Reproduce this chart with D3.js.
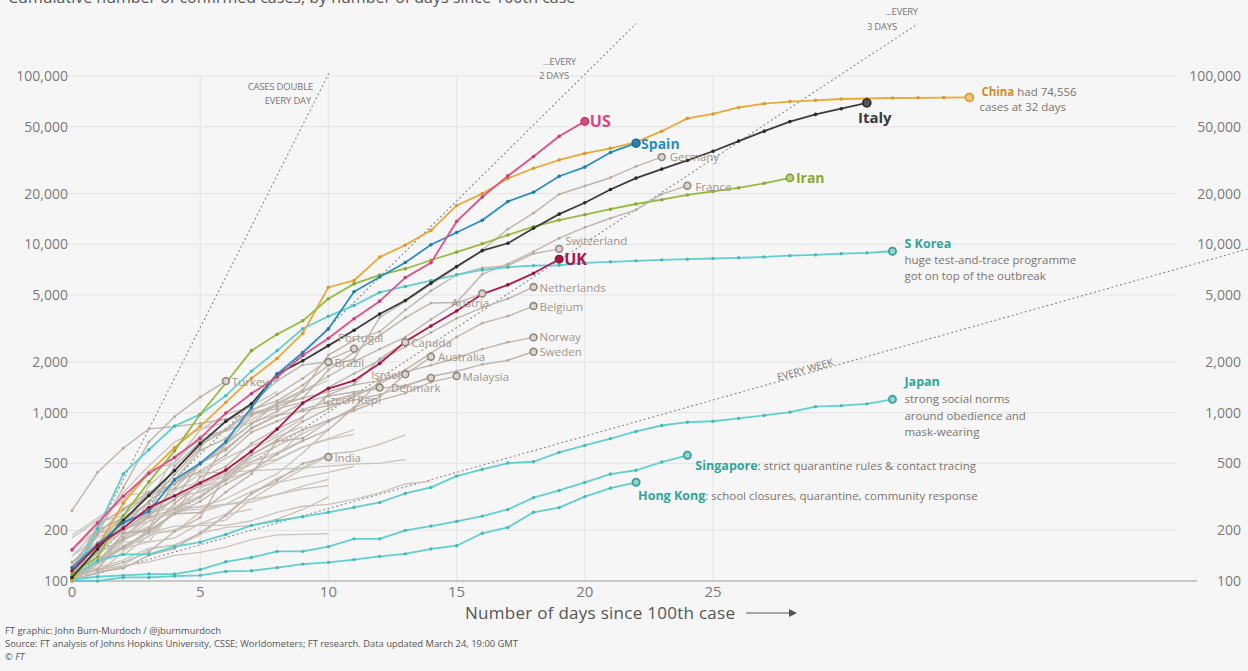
<!DOCTYPE html>
<html><head><meta charset="utf-8">
<script src="https://cdn.jsdelivr.net/npm/d3@7/dist/d3.min.js"></script>
<style>
html,body{margin:0;padding:0;background:#f6f6f6;}
svg{display:block;font-family:"Open Sans","Noto Sans",sans-serif;}
</style></head>
<body>
<svg id="c" width="1248" height="671"></svg>
<script>
// ---------- DATA ----------
const yTicks = [100, 200, 500, 1000, 2000, 5000, 10000, 20000, 50000, 100000];
const xTicks = [0, 5, 10, 15, 20, 25];
const xGrid = [5, 10, 15, 20, 25];

const china = [100,160,290,440,620,830,1150,1600,2100,2960,5560,6100,8400,9900,12100,17000,20000,24600,28300,31700,34700,37200,40500,47000,56000,59500,65000,68500,70500,71700,73000,73500,74000,74200,74400,74556];
const italy = [105,155,229,322,453,655,888,1128,1694,2036,2502,3089,3858,4636,5883,7375,9172,10149,12462,15113,17660,21157,24747,27980,31506,35713,41035,47021,53578,59138,63927,69176];
const us = [153,221,319,435,541,704,994,1301,1630,2183,2770,3613,4596,6344,7769,13680,19101,25493,33276,43847,53740];
const spain = [120,165,222,259,400,500,673,1073,1695,2277,3146,5232,6391,7798,9942,11748,13910,17963,20410,25374,28768,35136,39885];
const iran = [110,139,245,388,593,978,1501,2336,2922,3513,4747,5823,6566,7161,8042,9000,10075,11364,12729,13938,14991,16169,17361,18407,19644,20610,21638,23049,24811];
const uk = [115,163,206,273,321,382,456,590,798,1140,1391,1551,1960,2642,3269,4014,5067,5745,6726,8164];
const germany = [130,159,196,262,482,670,799,1040,1176,1457,1908,2078,3675,4585,5795,7272,9257,12327,15320,19848,22213,24873,29056,32986];
const france = [100,130,191,204,288,380,656,957,1134,1217,1792,2289,2876,3672,4480,4513,6650,7652,9043,10871,12612,14282,16018,19856,22304];
const switzerland = [114,214,268,337,374,491,652,858,1139,1359,2200,2700,3028,4075,5294,6575,7245,7474,8795,9400];
const netherlands = [128,188,265,321,382,503,614,804,959,1135,1413,1705,2051,2460,2994,3631,4204,4749,5580];
const belgium = [109,169,200,239,267,314,399,559,689,886,1058,1243,1486,1795,2257,2815,3401,3743,4300];
const austria = [104,131,182,246,302,504,655,860,1018,1332,1646,2013,2388,2814,3582,4474,5100];
const norway = [108,147,176,205,400,598,702,996,1090,1221,1333,1463,1550,1746,1914,2118,2385,2621,2800];
const sweden = [101,161,203,248,355,500,599,814,961,1022,1103,1190,1279,1439,1639,1763,1934,2046,2300];
const australia = [107,128,156,200,250,297,377,452,568,681,791,1071,1549,1682,2150];
const malaysia = [105,117,129,149,197,238,428,566,673,790,900,1030,1183,1306,1518,1650];
const denmark = [262,442,615,801,827,864,914,977,1057,1151,1255,1326,1395,1450,1610];
const portugal = [112,169,245,331,448,642,785,1020,1280,1600,2060,2400];
const canada = [108,117,193,198,252,415,478,657,800,943,1277,1469,2088,2620];
const brazil = [121,200,234,291,428,621,904,1128,1546,1924,2000];
const israel = [109,131,161,193,251,255,337,433,677,705,883,1071,1238,1690];
const czech = [116,150,214,298,383,450,560,765,889,1047,1161,1287,1410];
const turkey = [100,191,359,670,947,1236,1540];
const india = [102,113,119,142,156,194,244,330,396,499,545];

const sKorea = [104,204,433,602,833,977,1261,1766,2337,3150,3736,4335,5186,5621,6088,6593,7041,7314,7478,7513,7755,7869,7979,8086,8162,8236,8320,8413,8565,8652,8799,8897,9100];
const japan = [105,132,144,144,160,170,189,214,228,241,256,274,293,331,360,420,461,502,511,581,639,701,773,839,878,889,924,963,1007,1086,1101,1128,1200];
const singapore = [102,106,108,110,110,117,130,138,150,150,160,178,178,200,212,226,243,266,313,345,385,432,455,509,558];
const hongKong = [100,100,105,105,107,108,114,115,120,126,129,134,140,145,155,162,192,208,256,273,317,356,386];

const others = [
  [129,169,223,292,557,683,785,906,1125,1329,1564],
  [117,190,228,331,352,387,418,495,530,624,695,743],
  [155,225,244,277,321,336,400,450,523,626,700,792],
  [104,125,177,238,251,355,425,536,634,749,901,1051],
  [103,134,156,171,180,220,250,330,409,473,568,588,648,737],
  [180,230,320,337,401,439,442,452,460,470,481,494,501,526],
  [110,195,195,195,211,214,214,228,256,278,285,305,334,377,392],
  [141,181,219,253,275,275,286,341,383,414,442,480],
  [115,171,205,225,258,267,283,306,326,352,369],
  [123,131,158,184,260,277,308,367,433,576,794],
  [103,118,171,171,274,344,392,511,562,767],
  [155,201,238,238,342,434,537,632,746,922],
  [140,203,335,484,670,798,875,1099,1333],
  [114,147,177,212,272,322,411,599,721,827],
  [117,134,172,227,311,369,450,514,579,686],
  [111,140,142,187,202,217,230,307,380,462,552],
  [187,237,301,454,501,730,776,875,972],
  [109,110,150,196,196,256,285,294,327,366,402],
  [110,116,124,154,164,192,208,214,233,266,316],
  [100,112,123,130,142,148,159,176,188,189,191],
  [114,147,199,253,306,367,438,495],
  [111,168,199,367,506,789,981,1082],
  [109,120,133,157,163,187,248,267],
  [117,145,234,263,318,363,395]
];

// doubling-time reference lines: [days to double, last day drawn]
const refLines = [[1, 10.05], [2, 22], [3, 33], [7, 46]];

// ---------- STYLE / LAYOUT ----------
const W = 1248, H = 671;
const svg = d3.select("#c");
svg.append("rect").attr("width", W).attr("height", H).attr("fill", "#f6f6f6");

const x = d3.scaleLinear().domain([0, 25]).range([72, 713]);
const y = d3.scaleLog().domain([100, 100000]).range([581, 76]);

const C = {
  grid: "#e3e3e3", axis: "#9a9a9a", tick: "#7a7a7a",
  gray: "#cbc3bb", grayLab: "#a0958c", grayStroke: "#8f877f", grayFill: "#dcd6d0",
  china: "#e8a93a", chinaLab: "#cf8e25",
  us: "#e0508a", usLab: "#d9467f",
  spain: "#2b8fc0", spainLab: "#2b8dc0",
  italy: "#3c3c3c",
  iran: "#97ba3f", iranLab: "#86aa2f",
  uk: "#b01a50", ukLab: "#a8174b",
  teal: "#62cfcf", tealLab: "#33a39a",
  note: "#7d746c"
};

// title (clipped at top edge, as in the reference)
svg.append("text").attr("x", 8).attr("y", 3).attr("font-size", 16).attr("fill", "#555")
  .text("Cumulative number of confirmed cases, by number of days since 100th case");

// grid
const g = svg.append("g");
yTicks.forEach(v => {
  if (v === 100) return;
  g.append("line").attr("x1", 62).attr("x2", 1176).attr("y1", y(v)).attr("y2", y(v))
    .attr("stroke", C.grid).attr("stroke-width", 1);
});
xGrid.forEach(d => {
  g.append("line").attr("x1", x(d)).attr("x2", x(d)).attr("y1", y(100000)).attr("y2", y(100))
    .attr("stroke", C.grid).attr("stroke-width", 1);
});
g.append("line").attr("x1", 72).attr("x2", 1197).attr("y1", y(100)).attr("y2", y(100))
  .attr("stroke", C.axis).attr("stroke-width", 1.2);

// y labels left & right
const yFmt = d3.format(",");
yTicks.forEach(v => {
  svg.append("text").attr("x", 68).attr("y", y(v) + 5).attr("text-anchor", "end")
    .attr("font-size", 14).attr("fill", C.tick).text(yFmt(v));
  svg.append("text").attr("x", 1241).attr("y", y(v) + 5).attr("text-anchor", "end")
    .attr("font-size", 14).attr("fill", C.tick).text(yFmt(v));
});
// x labels
xTicks.forEach(d => {
  svg.append("text").attr("x", x(d)).attr("y", 597).attr("text-anchor", "middle")
    .attr("font-size", 15).attr("fill", C.tick).text(d);
});
svg.append("text").attr("x", 465).attr("y", 619).attr("font-size", 17).attr("fill", "#555")
  .attr("textLength", 270).text("Number of days since 100th case");
svg.append("line").attr("x1", 746).attr("x2", 790).attr("y1", 613).attr("y2", 613)
  .attr("stroke", "#555").attr("stroke-width", 1.2);
svg.append("path").attr("d", "M789,609 L797,613 L789,617 Z").attr("fill", "#555");

// reference lines
refLines.forEach(([t, dEnd]) => {
  svg.append("line")
    .attr("x1", x(0)).attr("y1", y(100))
    .attr("x2", x(dEnd)).attr("y2", y(100 * Math.pow(2, dEnd / t)))
    .attr("stroke", "#8a8a8a").attr("stroke-width", 1.1).attr("stroke-dasharray", "2,2.5");
});
function refText(tx, ty, s, anchor) {
  svg.append("text").attr("x", tx).attr("y", ty).attr("text-anchor", anchor || "end")
    .attr("font-size", 9.5).attr("fill", "#777").attr("letter-spacing", -0.2).text(s);
}
refText(313, 90, "CASES DOUBLE");
refText(311, 104, "EVERY DAY");
refText(576, 65, "...EVERY");
refText(569, 79, "2 DAYS");
refText(918, 15, "...EVERY");
refText(897, 30, "3 DAYS");
{
  const ang = -Math.atan((y(100) - y(200)) / (x(7) - x(0))) * 180 / Math.PI;
  svg.append("text").attr("transform", `translate(806,373) rotate(${ang})`)
    .attr("text-anchor", "middle").attr("font-size", 10).attr("fill", "#777")
    .text("EVERY WEEK");
}

const line = d3.line().x((v, i) => x(i)).y(v => y(v));

function drawSeries(data, color, width, dots, dotR, dotColor) {
  svg.append("path").attr("d", line(data)).attr("fill", "none")
    .attr("stroke", color).attr("stroke-width", width).attr("stroke-linejoin", "round");
  if (dots) {
    svg.append("g").selectAll("circle").data(data).join("circle")
      .attr("cx", (v, i) => x(i)).attr("cy", v => y(v)).attr("r", dotR || 1.8)
      .attr("fill", dotColor || color);
  }
}
function endMarker(data, stroke, fill, r, sw) {
  const i = data.length - 1;
  svg.append("circle").attr("cx", x(i)).attr("cy", y(data[i])).attr("r", r || 3.6)
    .attr("fill", fill).attr("stroke", stroke).attr("stroke-width", sw || 1.6);
}

others.forEach(s => drawSeries(s, C.gray, 1.3, false));

// labelled grey lines: series, name, label offsets
const grayLabelled = [
  [germany, "Germany", 8, 4, "start"],
  [france, "France", 8, 5, "start"],
  [switzerland, "Switzerland", 6, -4, "start"],
  [netherlands, "Netherlands", 6, 5, "start"],
  [belgium, "Belgium", 6, 5, "start"],
  [austria, "Austria", -31, 13, "start"],
  [norway, "Norway", 6, 4, "start"],
  [sweden, "Sweden", 6, 4, "start"],
  [australia, "Australia", 7, 4, "start"],
  [malaysia, "Malaysia", 6, 5, "start"],
  [denmark, "Denmark", -40, 14, "start"],
  [portugal, "Portugal", -16, -7, "start"],
  [canada, "Canada", 6, 5, "start"],
  [brazil, "Brazil", 6, 5, "start"],
  [israel, "Israel", -5, 5, "end"],
  [czech, "Czech Rep.", -57, 16, "start"],
  [turkey, "Turkey", 6, 5, "start"],
  [india, "India", 6, 5, "start"]
];
grayLabelled.forEach(([s]) => drawSeries(s, "#bfb5ac", 1.4, true, 1.4, "#b3a99f"));

[japan, singapore, hongKong, sKorea].forEach(s => drawSeries(s, C.teal, 1.8, true, 1.7, "#45b9b4"));

drawSeries(china, C.china, 1.8, true, 1.8, "#d99a2c");
drawSeries(iran, C.iran, 1.8, true, 1.8, "#86a935");
drawSeries(italy, C.italy, 1.8, true, 1.8, "#2a2a2a");
drawSeries(spain, C.spain, 1.8, true, 1.8, "#1e7aa8");
drawSeries(us, C.us, 1.8, true, 1.8, "#c93f76");
drawSeries(uk, C.uk, 1.8, true, 1.8, "#951240");

grayLabelled.forEach(([s]) => endMarker(s, C.grayStroke, C.grayFill, 3.4, 1.6));
[japan, singapore, hongKong, sKorea].forEach(s => endMarker(s, "#3d9d97", "#8fd6d0", 3.6, 1.8));
endMarker(china, "#d4952c", "#f1c77a", 4, 1.6);
endMarker(iran, "#7d9e2e", "#b9d37a", 3.6, 1.6);
endMarker(italy, "#2a2a2a", "#555", 4, 1.6);
endMarker(spain, "#1b6a91", "#2b7fae", 4, 1.4);
endMarker(us, "#b8356a", "#d4507f", 3.8, 1.4);
endMarker(uk, "#8c1039", "#a8174b", 3.8, 1.4);

grayLabelled.forEach(([s, name, dx, dy, anchor]) => {
  const i = s.length - 1;
  svg.append("text").attr("x", x(i) + dx).attr("y", y(s[i]) + dy).attr("text-anchor", anchor)
    .attr("font-size", 11.5).attr("fill", C.grayLab).text(name);
});

function endPos(s) { const i = s.length - 1; return [x(i), y(s[i])]; }
function label(s, dx, dy, txt, color, size, weight, anchor) {
  const [px, py] = endPos(s);
  return svg.append("text").attr("x", px + dx).attr("y", py + dy).attr("font-size", size)
    .attr("font-weight", weight || "bold").attr("fill", color).attr("text-anchor", anchor || "start").text(txt);
}
label(us, 5, 6, "US", C.usLab, 16);
label(spain, 5, 6, "Spain", C.spainLab, 14);
label(uk, 5, 6, "UK", C.ukLab, 16);
label(iran, 6, 5, "Iran", C.iranLab, 14);
label(italy, 8, 20, "Italy", "#3a3a3a", 15, "bold", "middle");

{
  const [px, py] = endPos(china);
  const t = svg.append("text").attr("x", px + 12).attr("y", py - 1).attr("font-size", 11.5);
  t.append("tspan").attr("font-weight", "bold").attr("fill", C.chinaLab).text("China");
  t.append("tspan").attr("fill", C.note).text(" had 74,556");
  svg.append("text").attr("x", px + 10).attr("y", py + 14).attr("font-size", 11.5)
    .attr("fill", C.note).text("cases at 32 days");
}
{
  const [px, py] = endPos(sKorea);
  svg.append("text").attr("x", px + 12).attr("y", py - 3).attr("font-size", 12.5)
    .attr("font-weight", "bold").attr("fill", C.tealLab).text("S Korea");
  ["huge test-and-trace programme", "got on top of the outbreak"].forEach((s, k) =>
    svg.append("text").attr("x", px + 12).attr("y", py + 13 + k * 15.5).attr("font-size", 11.5)
      .attr("fill", C.note).text(s));
}
{
  const [px, py] = endPos(japan);
  svg.append("text").attr("x", px + 12).attr("y", py - 13).attr("font-size", 12.5)
    .attr("font-weight", "bold").attr("fill", C.tealLab).text("Japan");
  ["strong social norms", "around obedience and", "mask-wearing"].forEach((s, k) =>
    svg.append("text").attr("x", px + 12).attr("y", py + 4 + k * 16.5).attr("font-size", 11.5)
      .attr("fill", C.note).text(s));
}
{
  const [px, py] = endPos(singapore);
  const t = svg.append("text").attr("x", px + 8).attr("y", py + 15).attr("font-size", 11.5);
  t.append("tspan").attr("font-weight", "bold").attr("font-size", 12.5).attr("fill", C.tealLab).text("Singapore");
  t.append("tspan").attr("fill", C.note).text(": strict quarantine rules & contact tracing");
}
{
  const [px, py] = endPos(hongKong);
  const t = svg.append("text").attr("x", px + 2).attr("y", py + 18).attr("font-size", 11.5);
  t.append("tspan").attr("font-weight", "bold").attr("font-size", 12.5).attr("fill", C.tealLab).text("Hong Kong");
  t.append("tspan").attr("fill", C.note).text(": school closures, quarantine, community response");
}

const foot = [
  ["FT graphic: John Burn-Murdoch / @jburnmurdoch", 634, "normal"],
  ["Source: FT analysis of Johns Hopkins University, CSSE; Worldometers; FT research. Data updated March 24, 19:00 GMT", 647, "normal"],
  ["© FT", 660, "italic"]
];
foot.forEach(([s, ty, st]) => svg.append("text").attr("x", 5).attr("y", ty).attr("font-size", 9.4)
  .attr("font-style", st).attr("fill", "#555").text(s));
</script>
</body></html>
